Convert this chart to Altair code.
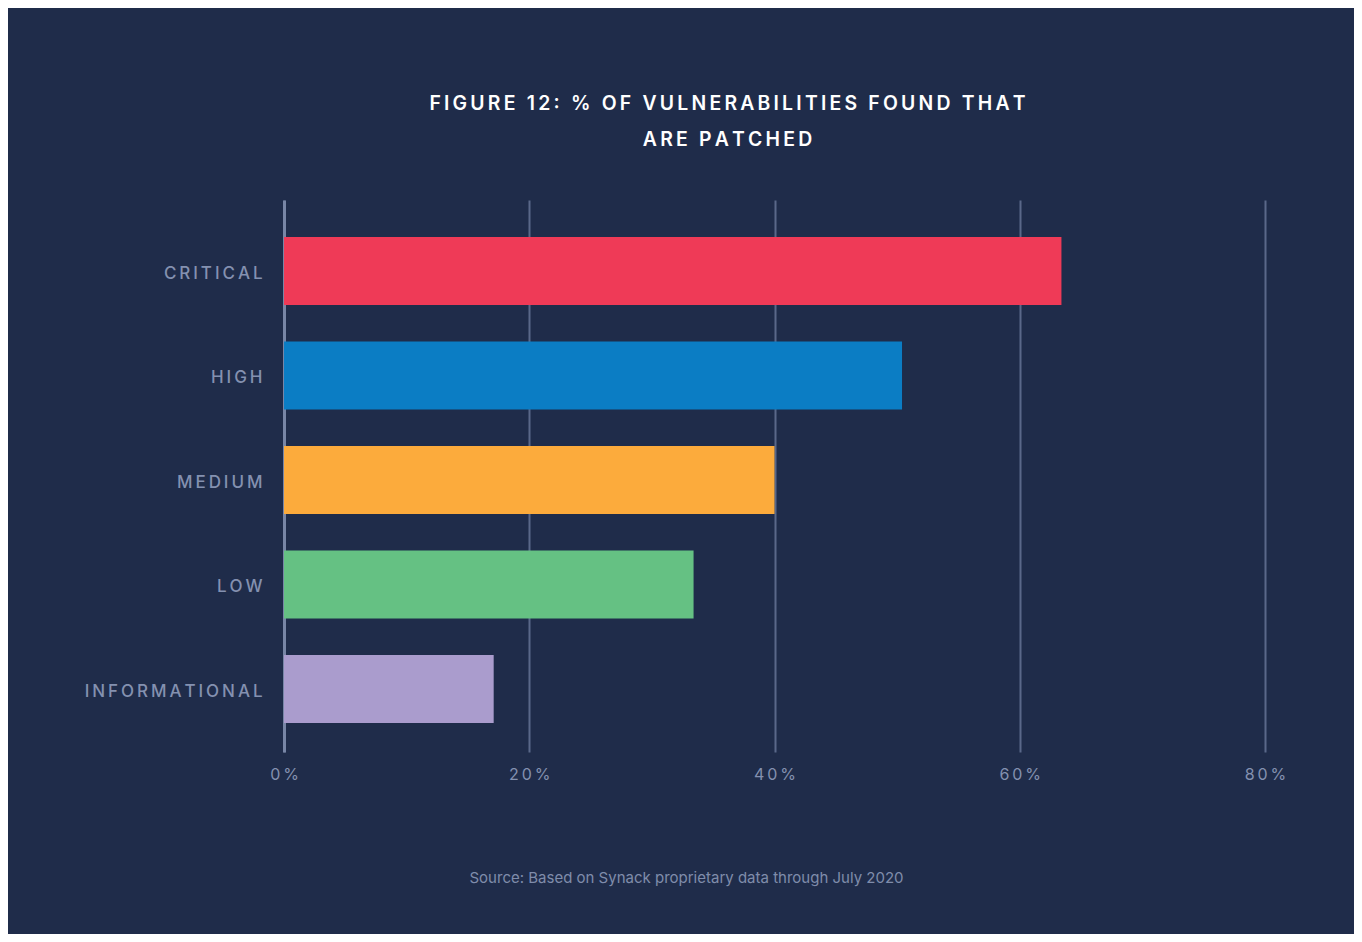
import altair as alt
import pandas as pd

categories = ["CRITICAL", "HIGH", "MEDIUM", "LOW", "INFORMATIONAL"]
values = [63.4, 50.4, 40.0, 33.4, 17.1]
colors = ["#ef3a57", "#0b7dc4", "#fcab3c", "#65c183", "#aa9ccd"]
x_ticks = [0, 20, 40, 60, 80]

TS = "\u2009"  # thin space used for letter spacing
title_lines = ["FIGURE 12: % OF VULNERABILITIES FOUND THAT", "ARE PATCHED"]
title_spaced = [TS.join(list(t)) for t in title_lines]
source_text = "Source: Based on Synack proprietary data through July 2020"

df = pd.DataFrame({"category": categories, "value": values})

BG = "#1f2c4a"
LABEL = "#8491b0"

bars = alt.Chart(df).mark_bar().encode(
    x=alt.X(
        "value:Q",
        scale=alt.Scale(domain=[0, 80], nice=False),
        axis=alt.Axis(
            values=x_ticks,
            labelExpr=f"join(split(datum.value + '%', ''), '{TS}')",
            labelFlush=False,
            grid=True,
            gridColor="#5a6889",
            gridWidth=2,
            domain=False,
            ticks=False,
            labelPadding=14,
            labelFontSize=16,
            labelColor=LABEL,
            labelFont="Inter",
            title=source_text,
            titleFont="Inter",
            titleFontSize=15,
            titleFontWeight="normal",
            titleColor="#7f8cab",
            titleX=402,
            titleY=125,
            titleAlign="center",
            titleBaseline="middle",
        ),
    ),
    y=alt.Y(
        "category:N",
        sort=categories,
        scale=alt.Scale(paddingInner=0.35, paddingOuter=0.316, align=0.56),
        axis=alt.Axis(
            labelExpr=f"join(split(datum.label, ''), '{TS}')",
            domain=True,
            domainColor="#7886a6",
            domainWidth=3,
            ticks=False,
            labelPadding=22,
            labelFontSize=17,
            labelFontWeight=500,
            labelColor=LABEL,
            labelFont="Inter",
            labelBaseline="middle",
            labelOffset=3,
            title=None,
        ),
    ),
    color=alt.Color(
        "category:N",
        scale=alt.Scale(domain=categories, range=colors),
        legend=None,
    ),
)

chart = bars.properties(
    width=981,
    height=552,
    autosize=alt.AutoSizeParams(type="none"),
    padding={"left": 276, "top": 192, "right": 89, "bottom": 182},
    background=BG,
    title=alt.TitleParams(
        text=title_spaced,
        font="Inter",
        fontSize=19.4,
        fontWeight=600,
        color="#ffffff",
        lineHeight=36,
        anchor="middle",
        dx=-47,
        offset=50,
    ),
).configure_view(stroke=None)

chart.save("out.html", embed_options={"renderer": "svg", "actions": False})
